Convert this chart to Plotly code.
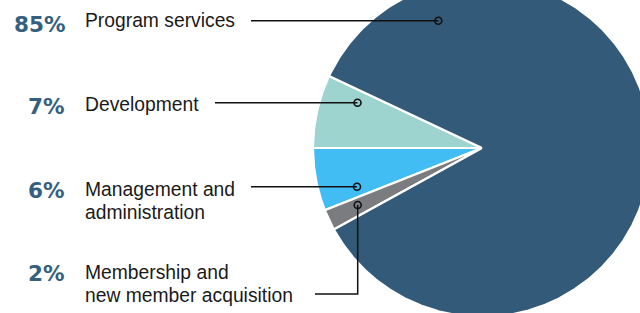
import numpy as np
import plotly.graph_objects as go

# ---- data ----
categories = ["Development", "Management and<br>administration",
              "Membership and<br>new member acquisition", "Program services"]
shares = [7, 6, 2, 85]
pct_labels = ["7%", "6%", "2%", "85%"]
colors = ["#9dd4cf", "#41bdf3", "#7b7c80", "#335a78"]

W, H = 640, 313
cx, cy, R = 482, 148, 169
# boundary between Development and Management sits at 180 degrees (pointing left)
start = 180 - shares[0] / sum(shares) * 360

fig = go.Figure()
ang = start
for cat, v, col in zip(categories, shares, colors):
    span = v / sum(shares) * 360
    th = np.radians(np.linspace(ang, ang + span, max(int(span * 2), 4)))
    xs = np.concatenate([[cx], cx + R * np.cos(th), [cx]])
    ys = np.concatenate([[cy], cy - R * np.sin(th), [cy]])
    fig.add_trace(go.Scatter(x=xs, y=ys, fill="toself", fillcolor=col, mode="lines",
                             line=dict(color="white", width=2.2), hoverinfo="text",
                             text=cat.replace("<br>", " "), showlegend=False))
    ang += span

# leader lines (layout)
leaders = [
    ([215, 357.5], [102.7, 102.7]),
    ([251, 357], [186.7, 186.7]),
    ([315, 357.7, 357.7], [294, 294, 205]),
    ([251, 438.3], [20.7, 20.7]),
]
for lx, ly in leaders:
    fig.add_trace(go.Scatter(x=lx, y=ly, mode="lines", line=dict(color="#111111", width=1.5),
                             hoverinfo="skip", showlegend=False))
    fig.add_trace(go.Scatter(x=[lx[-1]], y=[ly[-1]], mode="markers",
                             marker=dict(size=7, color="rgba(0,0,0,0)",
                                         line=dict(color="#111111", width=1.6)),
                             hoverinfo="skip", showlegend=False))

label_y = [103, 188.7, 271.3, 19]
pct_y = [105, 189.7, 272.5, 23]
LINE = 23
for cat, p, ly, py in zip(categories, pct_labels, label_y, pct_y):
    fig.add_annotation(x=67, y=py + 1, text="<b>" + p + "</b>", showarrow=False, xanchor="right",
                       yanchor="middle", font=dict(family="DejaVu Sans", size=21.5,
                                                   color="#34607f"))
    for i, line in enumerate(cat.split("<br>")):
        fig.add_annotation(x=82.5, y=ly + 1 + i * LINE, text=line, showarrow=False,
                           xanchor="left", yanchor="middle", align="left",
                           font=dict(family="Liberation Sans, Arial", size=19.3, color="#1a1a1a"))

fig.update_layout(
    width=W, height=H, margin=dict(l=0, r=0, t=0, b=0),
    paper_bgcolor="white", plot_bgcolor="white",
    xaxis=dict(range=[0, W], visible=False, fixedrange=True),
    yaxis=dict(range=[H, 0], visible=False, fixedrange=True),
)
fig.write_html("out.html", config={"displayModeBar": False},
               post_script="document.body.style.margin='0';document.body.style.overflow='hidden';")
